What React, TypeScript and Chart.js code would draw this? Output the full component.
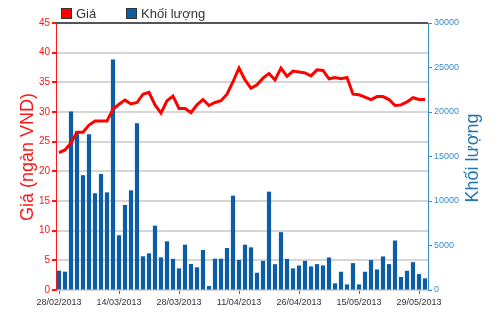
import React, { useEffect, useRef } from "react";
import Chart from "chart.js/auto";

const dates: string[] = [
  "28/02/2013", "01/03/2013", "04/03/2013", "05/03/2013", "06/03/2013", "07/03/2013", "08/03/2013",
  "11/03/2013", "12/03/2013", "13/03/2013", "14/03/2013", "15/03/2013", "18/03/2013", "19/03/2013",
  "20/03/2013", "21/03/2013", "22/03/2013", "25/03/2013", "26/03/2013", "27/03/2013", "28/03/2013",
  "29/03/2013", "01/04/2013", "02/04/2013", "03/04/2013", "04/04/2013", "05/04/2013", "08/04/2013",
  "09/04/2013", "10/04/2013", "11/04/2013", "12/04/2013", "15/04/2013", "16/04/2013", "17/04/2013",
  "18/04/2013", "22/04/2013", "23/04/2013", "24/04/2013", "25/04/2013", "26/04/2013", "02/05/2013",
  "03/05/2013", "06/05/2013", "07/05/2013", "08/05/2013", "09/05/2013", "10/05/2013", "13/05/2013",
  "14/05/2013", "15/05/2013", "16/05/2013", "17/05/2013", "20/05/2013", "21/05/2013", "22/05/2013",
  "23/05/2013", "24/05/2013", "27/05/2013", "28/05/2013", "29/05/2013", "30/05/2013",
];

const priceValues: number[] = [
  23.15, 23.6, 24.8, 26.6, 26.6, 27.8, 28.5, 28.5, 28.5, 30.45,
  31.3, 32.0, 31.35, 31.6, 33.0, 33.3, 31.2, 29.8, 31.9, 32.7,
  30.6, 30.6, 29.9, 31.2, 32.1, 31.1, 31.6, 31.9, 33.0, 35.1,
  37.4, 35.4, 34.0, 34.6, 35.7, 36.5, 35.4, 37.4, 36.0, 36.9,
  36.75, 36.6, 36.1, 37.1, 37.0, 35.6, 35.8, 35.6, 35.8, 33.0,
  32.9, 32.5, 32.1, 32.6, 32.6, 32.1, 31.1, 31.2, 31.7, 32.4,
  32.1, 32.1,
];

const volumeValues: number[] = [
  2170, 2060, 20050, 17850, 12900, 17500, 10870, 13030, 10970, 25900,
  6150, 9550, 11200, 18750, 3790, 4120, 7230, 3670, 5470, 3500,
  2430, 5090, 2920, 2550, 4500, 450, 3520, 3520, 4720, 10600,
  3370, 5090, 4790, 1940, 3270, 11050, 2900, 6500, 3500, 2430,
  2750, 3280, 2650, 2910, 2760, 3660, 750, 2050, 630, 3020,
  630, 2050, 3360, 2310, 3770, 2910, 5560, 1460, 2160, 3130,
  1790, 1310,
];

const seriesNames: string[] = ["Giá", "Khối lượng"];
const leftTitle = "Giá (ngàn VND)";
const rightTitle = "Khối lượng";
const labelEvery = 10;

const RED = "#ff1414";
const BLUE = "#1f74b4";
const BAR = "#0c5ca6";
const FONT = "'Liberation Sans', Arial, sans-serif";

const decorPlugin = {
  id: "decor",
  afterDraw(chart: any) {
    const { ctx, chartArea } = chart;
    ctx.save();
    ctx.strokeStyle = "#555";
    ctx.lineWidth = 2;
    ctx.beginPath();
    ctx.moveTo(chartArea.left, chartArea.top);
    ctx.lineTo(chartArea.right, chartArea.top);
    ctx.stroke();

    ctx.font = `13px ${FONT}`;
    ctx.textBaseline = "middle";
    ctx.textAlign = "left";
    const items = [
      { x: 61, color: "#ff0000", text: seriesNames[0] },
      { x: 126, color: BAR, text: seriesNames[1] },
    ];
    items.forEach((it) => {
      ctx.fillStyle = it.color;
      ctx.fillRect(it.x, 8, 11, 11);
      ctx.strokeStyle = "#333";
      ctx.lineWidth = 1;
      ctx.strokeRect(it.x + 0.5, 8.5, 10, 10);
      ctx.fillStyle = "#333";
      ctx.fillText(it.text, it.x + 15, 14);
    });

    ctx.font = `18px ${FONT}`;
    ctx.textAlign = "center";
    ctx.textBaseline = "middle";
    ctx.fillStyle = RED;
    ctx.save();
    ctx.translate(28, 157);
    ctx.rotate(-Math.PI / 2);
    ctx.fillText(leftTitle, 0, 0);
    ctx.restore();

    ctx.fillStyle = BLUE;
    ctx.save();
    ctx.translate(473, 158);
    ctx.rotate(-Math.PI / 2);
    ctx.fillText(rightTitle, 0, 0);
    ctx.restore();
    ctx.restore();
  },
};

export default function App() {
  const ref = useRef<HTMLCanvasElement | null>(null);
  useEffect(() => {
    if (!ref.current) return;
    const chart = new Chart(ref.current, {
      type: "bar",
      data: {
        labels: dates,
        datasets: [
          {
            type: "line",
            label: seriesNames[0],
            data: priceValues,
            yAxisID: "y",
            borderColor: "#ff0000",
            backgroundColor: "#ff0000",
            borderWidth: 3,
            pointRadius: 0,
            tension: 0,
            order: 0,
          } as any,
          {
            type: "bar",
            label: seriesNames[1],
            data: volumeValues,
            yAxisID: "y1",
            backgroundColor: BAR,
            barPercentage: 0.7,
            categoryPercentage: 1,
            order: 1,
          },
        ],
      },
      options: {
        responsive: false,
        animation: false,
        layout: { padding: { top: 23, left: 0, right: 0, bottom: 0 } },
        plugins: { legend: { display: false }, tooltip: { enabled: false } },
        scales: {
          x: {
            offset: true,
            grid: {
              offset: false,
              drawOnChartArea: false,
              drawTicks: true,
              tickLength: 4,
              tickColor: (c: any) => (c.index % labelEvery === 0 ? "#666" : "rgba(0,0,0,0)"),
            },
            border: { display: false },
            ticks: {
              autoSkip: false,
              maxRotation: 0,
              minRotation: 0,
              padding: 3,
              color: "#333",
              font: { family: FONT, size: 9 },
              callback: (_v: any, i: number) => (i % labelEvery === 0 ? dates[i] : ""),
            },
            afterFit: (s: any) => {
              s.height = 22;
            },
          },
          y: {
            position: "left",
            min: 0,
            max: 45,
            ticks: { stepSize: 5, color: RED, padding: 2, font: { family: FONT, size: 10 } },
            grid: { color: "#d6d6d6", lineWidth: 2, tickColor: RED, tickLength: 4 },
            border: { color: RED, width: 1 },
            afterFit: (s: any) => {
              s.width = 56;
            },
          },
          y1: {
            position: "right",
            min: 0,
            max: 30000,
            ticks: {
              stepSize: 5000,
              color: "#3a8cc8",
              padding: 2,
              font: { family: FONT, size: 9 },
              callback: (v: any) => String(v),
            },
            grid: { drawOnChartArea: false, tickColor: "#3a8cc8", tickLength: 4 },
            border: { color: "#3a8cc8", width: 1 },
            afterFit: (s: any) => {
              s.width = 72;
            },
          },
        },
      },
      plugins: [decorPlugin],
    });
    return () => chart.destroy();
  }, []);
  return (
    <div style={{ position: "absolute", left: 0, top: 0, width: 500, height: 312, background: "#fff" }}>
      <canvas ref={ref} width={500} height={312} style={{ display: "block" }} />
    </div>
  );
}
